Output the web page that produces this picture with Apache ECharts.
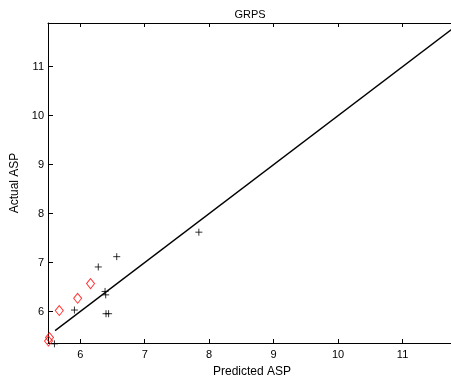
<!DOCTYPE html>
<html><head><meta charset="utf-8">
<script src="https://cdn.jsdelivr.net/npm/echarts@6/dist/echarts.min.js"></script>
<style>html,body{margin:0;padding:0;background:#fff}#c{width:451px;height:383px}</style>
</head><body><div id="c"></div>
<script>
// Data
const plusPredicted = [6.28, 6.566, 6.395, 6.385, 6.40, 6.44, 5.91, 7.84, 5.60];
const plusActual    = [6.91, 7.12, 6.34, 6.41, 5.955, 5.955, 6.03, 7.62, 5.34];
const diamondPredicted = [5.675, 5.96, 6.16, 5.523, 5.508];
const diamondActual    = [6.02, 6.27, 6.57, 5.468, 5.397];
const fitLineX = [5.61, 12];
const xTicks = [6, 7, 8, 9, 10, 11];
const yTicks = [6, 7, 8, 9, 10, 11];
const xRange = [5.5, 11.751];
const yRange = [5.357, 11.892];

const FONT = 'Liberation Sans, Arial, Helvetica, sans-serif';
const plusData = plusPredicted.map((x, i) => [x, plusActual[i]]);
const diamondData = diamondPredicted.map((x, i) => [x, diamondActual[i]]);
const lineData = fitLineX.map(x => [x, x]);

function xAx(pos, show) {
  return {
    type: 'value', position: pos, min: xRange[0], max: xRange[1],
    name: show ? 'Predicted ASP' : '', nameLocation: 'middle', nameGap: 23,
    nameTextStyle: {color: '#000', fontSize: 12, fontFamily: FONT, padding: [0, 0, 0, 5]},
    axisLine: {show: true, onZero: false, lineStyle: {color: '#000', width: 1}},
    axisTick: {show: true, inside: true, length: 4, customValues: xTicks, lineStyle: {color: '#000'}},
    axisLabel: {show: show, customValues: xTicks, color: '#000', fontSize: 11, fontFamily: FONT, margin: 6},
    splitLine: {show: false}
  };
}
function yAx(pos, show) {
  return {
    type: 'value', position: pos, min: yRange[0], max: yRange[1],
    name: show ? 'Actual ASP' : '', nameLocation: 'middle', nameGap: 26,
    nameTextStyle: {color: '#000', fontSize: 12, fontFamily: FONT},
    axisLine: {show: show, onZero: false, lineStyle: {color: '#000', width: 1}},
    axisTick: {show: show, inside: true, length: 5, customValues: yTicks, lineStyle: {color: '#000'}},
    axisLabel: {show: show, customValues: yTicks, color: '#000', fontSize: 11, fontFamily: FONT, margin: 4},
    splitLine: {show: false}
  };
}

const chart = echarts.init(document.getElementById('c'), null, {renderer: 'canvas'});
chart.setOption({
  backgroundColor: '#fff',
  animation: false,
  title: {text: 'GRPS', left: 245, top: 4, textAlign: 'center',
    textStyle: {color: '#000', fontSize: 11, fontWeight: 'normal', fontFamily: FONT}},
  grid: {left: 48, top: 23, width: 403, height: 322, containLabel: false},
  xAxis: [xAx('bottom', true), xAx('top', false)],
  yAxis: [yAx('left', true), yAx('right', false)],
  series: [
    {type: 'line', data: lineData, symbol: 'none', clip: true,
     lineStyle: {color: '#000', width: 1.3}},
    {type: 'scatter', data: plusData, clip: false,
     symbol: 'path://M0,4L8,4M4,0L4,8', symbolSize: 7,
     itemStyle: {color: 'rgba(0,0,0,0)', borderColor: '#000', borderWidth: 1}},
    {type: 'scatter', data: diamondData, clip: false,
     symbol: 'diamond', symbolSize: [8, 10],
     itemStyle: {color: 'rgba(0,0,0,0)', borderColor: '#ff0000', borderWidth: 1}}
  ]
});
</script></body></html>
